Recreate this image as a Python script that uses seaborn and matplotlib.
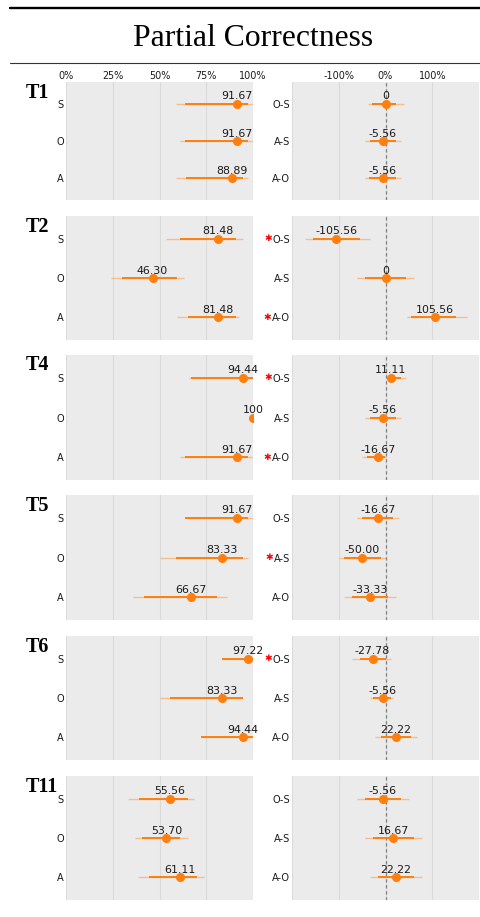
import matplotlib
matplotlib.use("Agg")
import matplotlib.pyplot as plt
from matplotlib.lines import Line2D
import numpy as np
import pandas as pd
import seaborn as sns

tasks = ["T1", "T2", "T4", "T5", "T6", "T11"]
conditions = ["S", "O", "A"]
contrasts = ["O-S", "A-S", "A-O"]
score_ticks = [0, 25, 50, 75, 100]
score_ticklabels = ["0%", "25%", "50%", "75%", "100%"]
diff_ticks = [-100, 0, 100]
diff_ticklabels = ["-100%", "0%", "100%"]

# mean partial-correctness score (%) per condition
score = [
    [91.67, 91.67, 88.89],
    [81.48, 46.30, 81.48],
    [94.44, 100.0, 91.67],
    [91.67, 83.33, 66.67],
    [97.22, 83.33, 94.44],
    [55.56, 53.70, 61.11],
]
# inner (50%) interval of the score
score_lo50 = [
    [63.9, 63.9, 64.4],
    [61.2, 29.7, 65.0],
    [66.7, 100.0, 63.9],
    [63.9, 58.6, 41.6],
    [83.5, 55.5, 72.4],
    [39.0, 40.9, 44.3],
]
score_hi50 = [
    [97.3, 97.3, 94.7],
    [90.8, 59.1, 90.8],
    [100.0, 100.0, 97.3],
    [97.3, 94.7, 80.5],
    [100.0, 94.7, 100.0],
    [65.0, 60.9, 70.3],
]
# outer (95%) interval of the score
score_lo95 = [
    [58.6, 61.0, 58.6],
    [53.7, 24.0, 59.3],
    [66.0, 100.0, 61.0],
    [63.9, 50.2, 35.9],
    [83.3, 50.2, 72.0],
    [33.3, 36.8, 38.6],
]
score_hi95 = [
    [100.0, 100.0, 97.3],
    [94.7, 63.0, 92.7],
    [100.0, 100.0, 100.0],
    [100.0, 97.3, 86.1],
    [100.0, 94.7, 100.0],
    [68.3, 65.0, 73.8],
]

# pairwise differences between conditions (%)
diff = [
    [0.0, -5.56, -5.56],
    [-105.56, 0.0, 105.56],
    [11.11, -5.56, -16.67],
    [-16.67, -50.00, -33.33],
    [-27.78, -5.56, 22.22],
    [-5.56, 16.67, 22.22],
]
diff_lo50 = [
    [-28.5, -32.7, -35.6],
    [-155.2, -44.1, 55.5],
    [5.6, -32.7, -39.7],
    [-49.7, -88.2, -71.9],
    [-55.5, -27.0, -10.0],
    [-44.1, -27.0, -15.7],
]
diff_hi50 = [
    [22.8, 21.4, 22.8],
    [-55.5, 44.1, 150.9],
    [33.5, 22.8, -1.4],
    [17.1, -9.2, 6.4],
    [0.0, 12.1, 55.5],
    [33.5, 61.9, 61.9],
]
diff_lo95 = [
    [-38.4, -44.0, -44.0],
    [-171.5, -60.5, 45.6],
    [5.6, -44.0, -49.7],
    [-61.2, -99.6, -89.0],
    [-71.9, -32.7, -21.4],
    [-60.5, -44.1, -32.7],
]
diff_hi95 = [
    [39.2, 34.0, 34.0],
    [-32.7, 61.9, 173.7],
    [44.0, 34.0, 1.4],
    [28.5, 0.0, 22.8],
    [12.1, 17.1, 67.6],
    [49.8, 78.3, 78.3],
]
# significant contrasts get a red marker
diff_sig = [
    [False, False, False],
    [True, False, True],
    [True, False, True],
    [False, True, False],
    [True, False, False],
    [False, False, False],
]

ORANGE = "#ff7f0e"
TEXT = "#1a1a1a"
W, H = 481, 917

sns.set_style("darkgrid", {"axes.facecolor": "#ebebeb", "grid.color": "#dadada"})
plt.rcParams["font.family"] = ["DejaVu Sans"]

fig = plt.figure(figsize=(W / 100, H / 100), dpi=100)
fig.patch.set_facecolor("white")

# panel rows in pixels (top, bottom)
rows = [(82, 200), (216, 340), (355, 480), (495, 620), (636, 760), (776, 900)]
left_x, right_x, panel_w = 66, 292, 187


def fmt(v):
    if v in (0, 100):
        return f"{v:g}"
    return f"{v:.2f}"


def panel(ax, labels, vals, lo50, hi50, lo95, hi95, xlim, ticks, ticklabels, top_ticks, zero):
    df = pd.DataFrame({"label": labels, "value": vals})
    sns.pointplot(data=df, x="value", y="label", order=labels, color=ORANGE,
                  errorbar=None, linestyle="none", markersize=4.5, ax=ax)
    ys = np.arange(len(labels))
    ax.hlines(ys, lo95, hi95, color=ORANGE, alpha=0.4, lw=1.0, zorder=1.6)
    ax.hlines(ys, lo50, hi50, color=ORANGE, lw=1.4, zorder=1.8)
    if zero:
        ax.axvline(0, color="#808080", lw=0.9, ls=(0, (2.6, 2.2)), zorder=1.5)
    for y, v in zip(ys, vals):
        ax.annotate(fmt(v), (v, y), xytext=(0, 3.2), textcoords="offset points",
                    ha="center", va="baseline", fontsize=7.9, color=TEXT,
                    annotation_clip=False, zorder=5)
    ax.set_xlim(*xlim)
    ax.set_ylim(2.58, -0.58)
    ax.set_xticks(ticks)
    ax.set_xticklabels(ticklabels)
    ax.grid(axis="y", visible=False)
    ax.set_xlabel("")
    ax.set_ylabel("")
    for s in ax.spines.values():
        s.set_visible(False)
    ax.tick_params(axis="y", length=0, pad=1.5, labelsize=7.1, labelcolor=TEXT)
    if top_ticks:
        ax.xaxis.tick_top()
        ax.tick_params(axis="x", length=0, pad=0.6, labelsize=6.9, labelcolor=TEXT)
    else:
        ax.tick_params(axis="x", length=0, labelbottom=False, labeltop=False)


axes_right = []
for k, (task, (top, bot)) in enumerate(zip(tasks, rows)):
    y0 = 1 - bot / H
    h = (bot - top) / H
    axl = fig.add_axes([left_x / W, y0, panel_w / W, h])
    axr = fig.add_axes([right_x / W, y0, panel_w / W, h])
    panel(axl, conditions, score[k], score_lo50[k], score_hi50[k],
          score_lo95[k], score_hi95[k], (0, 100), score_ticks, score_ticklabels,
          k == 0, False)
    panel(axr, contrasts, diff[k], diff_lo50[k], diff_hi50[k],
          diff_lo95[k], diff_hi95[k], (-200, 200), diff_ticks + [-200, 200],
          diff_ticklabels + ["", ""], k == 0, True)
    axes_right.append(axr)
    fig.text(26 / W, 1 - (top + 0.5) / H, task, family="Liberation Serif",
             weight="bold", fontsize=14.5, ha="left", va="top", color="black")

# title and rules
fig.text(253 / W, 1 - 45.8 / H, "Partial Correctness", family="Liberation Serif",
         fontsize=22.8, ha="center", va="baseline", color="black")
fig.add_artist(Line2D([10 / W, 1], [1 - 7.8 / H] * 2, color="black", lw=1.7))
fig.add_artist(Line2D([10 / W, 1], [1 - 63.3 / H] * 2, color="#333333", lw=0.8))

# red markers next to significant contrasts
fig.canvas.draw()
renderer = fig.canvas.get_renderer()
for k, axr in enumerate(axes_right):
    labs = {t.get_text(): t for t in axr.get_yticklabels()}
    for j, name in enumerate(contrasts):
        if not diff_sig[k][j]:
            continue
        bb = labs[name].get_window_extent(renderer)
        ypix = axr.transData.transform((0, j))[1]
        fig.text((bb.x0 - 0.4) / W, ypix / H, "\u2731", color="red", fontsize=6.6,
                 ha="right", va="center", family="DejaVu Sans")

fig.savefig("out.png", dpi=100, facecolor="white")
